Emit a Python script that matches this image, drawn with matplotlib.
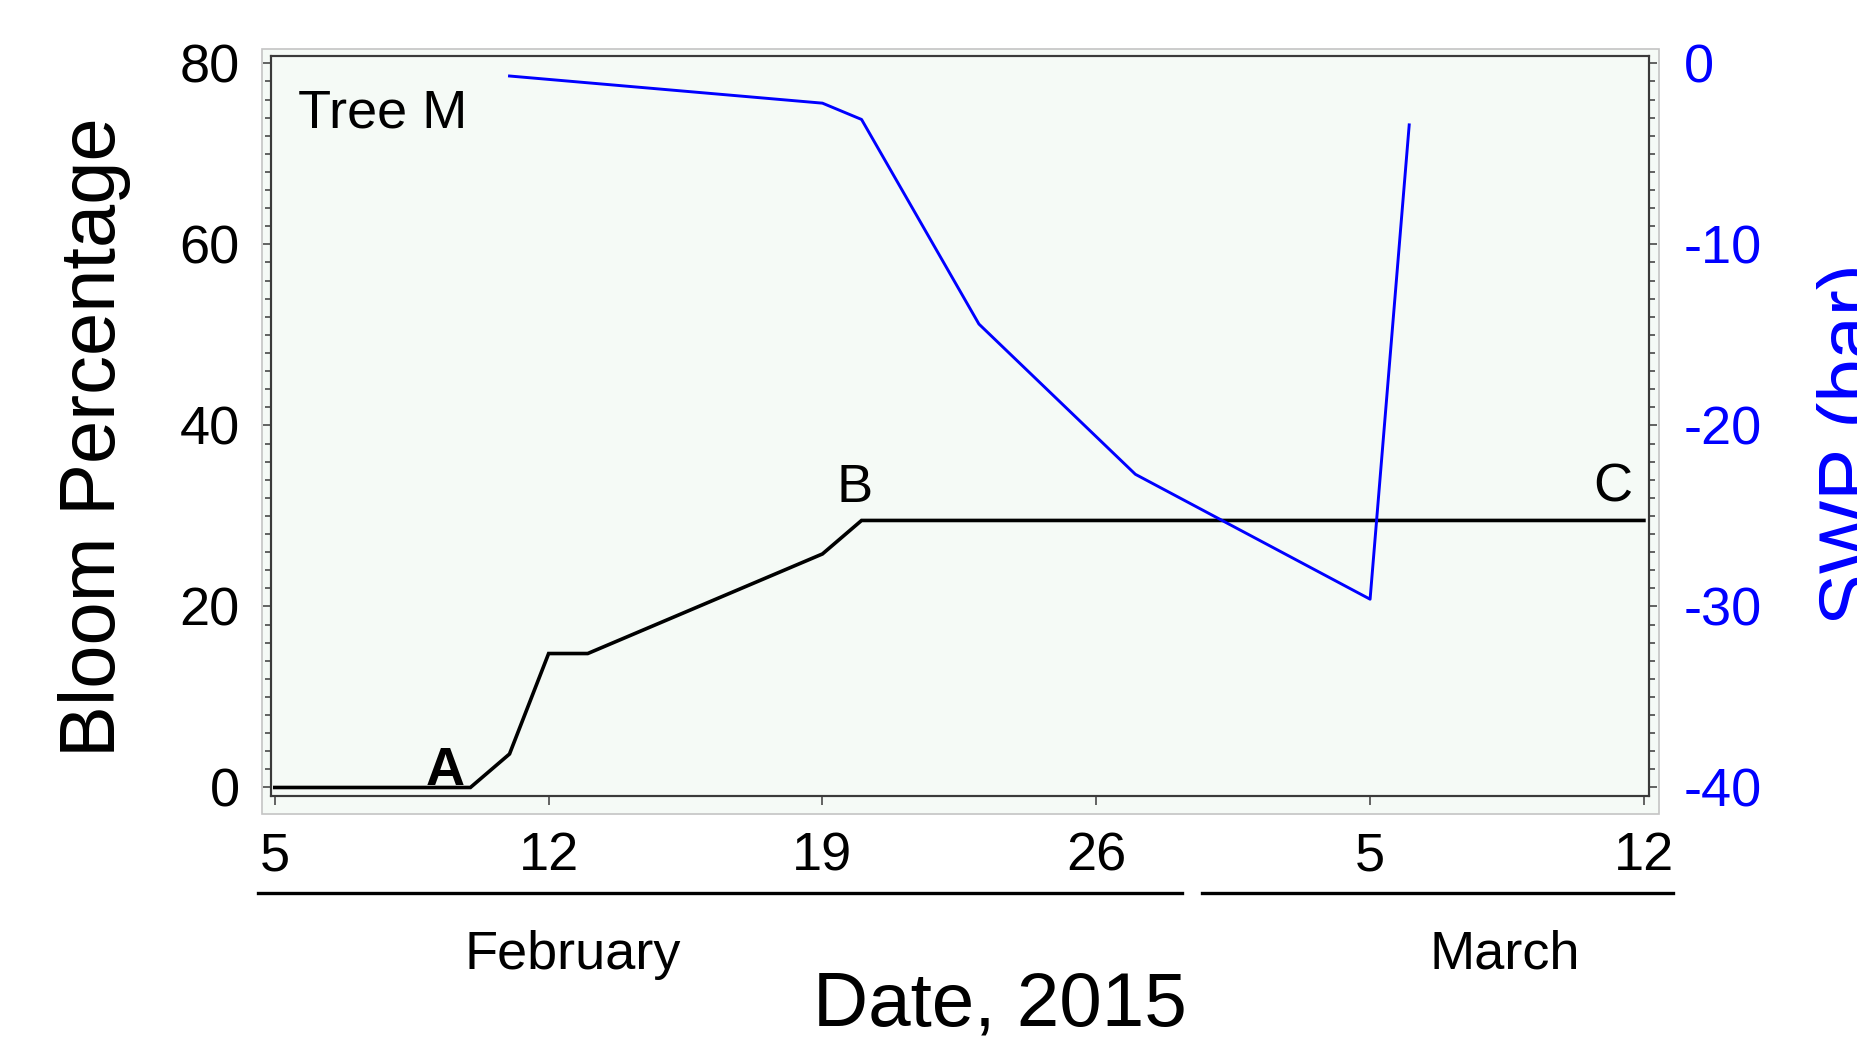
import matplotlib
matplotlib.use("Agg")
import matplotlib.pyplot as plt
from matplotlib.patches import Rectangle
from matplotlib.lines import Line2D
from matplotlib.ticker import MultipleLocator, FixedLocator

plt.rcParams['font.family'] = ['Liberation Sans', 'DejaVu Sans']
plt.rcParams['axes.unicode_minus'] = False

# ---- data (day numbers counted from Feb 1, 2015; Mar 5 = 33) ----
bloom_days = [5, 10, 11, 12, 13, 19, 20, 40]
bloom_pct = [0, 0, 3.7, 14.8, 14.8, 25.8, 29.5, 29.5]

swp_days = [11, 19, 20, 23, 27, 33, 34]
swp_bar = [-0.7, -2.2, -3.1, -14.4, -22.7, -29.6, -3.4]

xtick_pos = [5, 12, 19, 26, 33, 40]
xtick_labels = ['5', '12', '19', '26', '5', '12']
month_labels = ['February', 'March']

W, H = 1857, 1038
fig = plt.figure(figsize=(W / 100, H / 100), dpi=100)
fig.patch.set_facecolor('white')

bg = '#f5faf6'
frame_c = '#3a3a3a'

def fx(px):
    return px / W

def fy(py):
    return 1 - py / H

# outer plot-area panel
outer = Rectangle((fx(261.7), fy(814)), fx(1659) - fx(261.7), fy(48.5) - fy(814),
                  transform=fig.transFigure, facecolor=bg, edgecolor='#c4c4c4',
                  linewidth=1.2, zorder=-5)
fig.patches.append(outer)

ax = fig.add_axes([fx(270.5), fy(796), fx(1649) - fx(270.5), fy(56) - fy(796)])
ax.set_zorder(1)
ax.set_facecolor(bg)
ax.set_xlim(4.89, 40.13)
ax.set_ylim(-0.94, 80.81)

for s in ax.spines.values():
    s.set_color(frame_c)
    s.set_linewidth(1.5)

ax.plot(bloom_days, bloom_pct, color='black', linewidth=2.6, solid_joinstyle='miter', zorder=3)

ax.xaxis.set_major_locator(FixedLocator(xtick_pos))
ax.set_xticklabels(xtick_labels)
ax.yaxis.set_major_locator(MultipleLocator(20))
ax.yaxis.set_minor_locator(MultipleLocator(2))
ax.tick_params(axis='y', which='major', direction='out', length=6, width=1.1,
               color=frame_c, labelsize=39, pad=16, labelcolor='black')
ax.tick_params(axis='y', which='minor', direction='out', length=4.5, width=1.1, color=frame_c)
ax.tick_params(axis='x', which='major', direction='out', length=6.5, width=1.1,
               color=frame_c, labelsize=39, pad=19)

ax2 = ax.twinx()
ax2.set_zorder(2)
ax2.patch.set_visible(False)
ax2.set_ylim(-40.47, 0.405)
ax2.plot(swp_days, swp_bar, color='#0000ff', linewidth=2.1, zorder=4)
for s in ax2.spines.values():
    s.set_color(frame_c)
    s.set_linewidth(1.5)
ax2.yaxis.set_major_locator(MultipleLocator(10))
ax2.yaxis.set_minor_locator(MultipleLocator(1))
ax2.tick_params(axis='y', which='major', direction='out', length=6, width=1.1,
                color=frame_c, labelsize=39, pad=19, labelcolor='#0000ff')
ax2.tick_params(axis='y', which='minor', direction='out', length=4.5, width=1.1, color=frame_c)

# annotations inside the plot
ax2.text(fx(298), fy(128), 'Tree M', transform=fig.transFigure, fontsize=39,
         ha='left', va='baseline')
ax2.text(fx(445), fy(785), 'A', transform=fig.transFigure, fontsize=39,
         fontweight='bold', ha='center', va='baseline')
ax2.text(fx(855), fy(502), 'B', transform=fig.transFigure, fontsize=39,
         ha='center', va='baseline')
ax2.text(fx(1613), fy(502), 'C', transform=fig.transFigure, fontsize=39,
         ha='center', va='baseline')

# axis titles
fig.text(fx(95), fy(437), 'Bloom Percentage', fontsize=56, rotation=90,
         ha='center', va='center')
fig.text(fx(1817), fy(444), 'SWP (bar)', fontsize=56, rotation=90,
         ha='left', va='center', color='#0000ff')
fig.text(fx(999.5), fy(1025.6), 'Date, 2015', fontsize=55, ha='center', va='baseline')

# month underlines and labels
fig.lines.append(Line2D([fx(258), fx(1182)], [fy(893), fy(893)], transform=fig.transFigure,
                        color='black', linewidth=2.4))
fig.lines.append(Line2D([fx(1202), fx(1673)], [fy(893), fy(893)], transform=fig.transFigure,
                        color='black', linewidth=2.4))
fig.text(fx(573), fy(968.7), month_labels[0], fontsize=39, ha='center', va='baseline')
fig.text(fx(1505), fy(968.7), month_labels[1], fontsize=39, ha='center', va='baseline')

fig.savefig('out.png', dpi=100, facecolor='white')
